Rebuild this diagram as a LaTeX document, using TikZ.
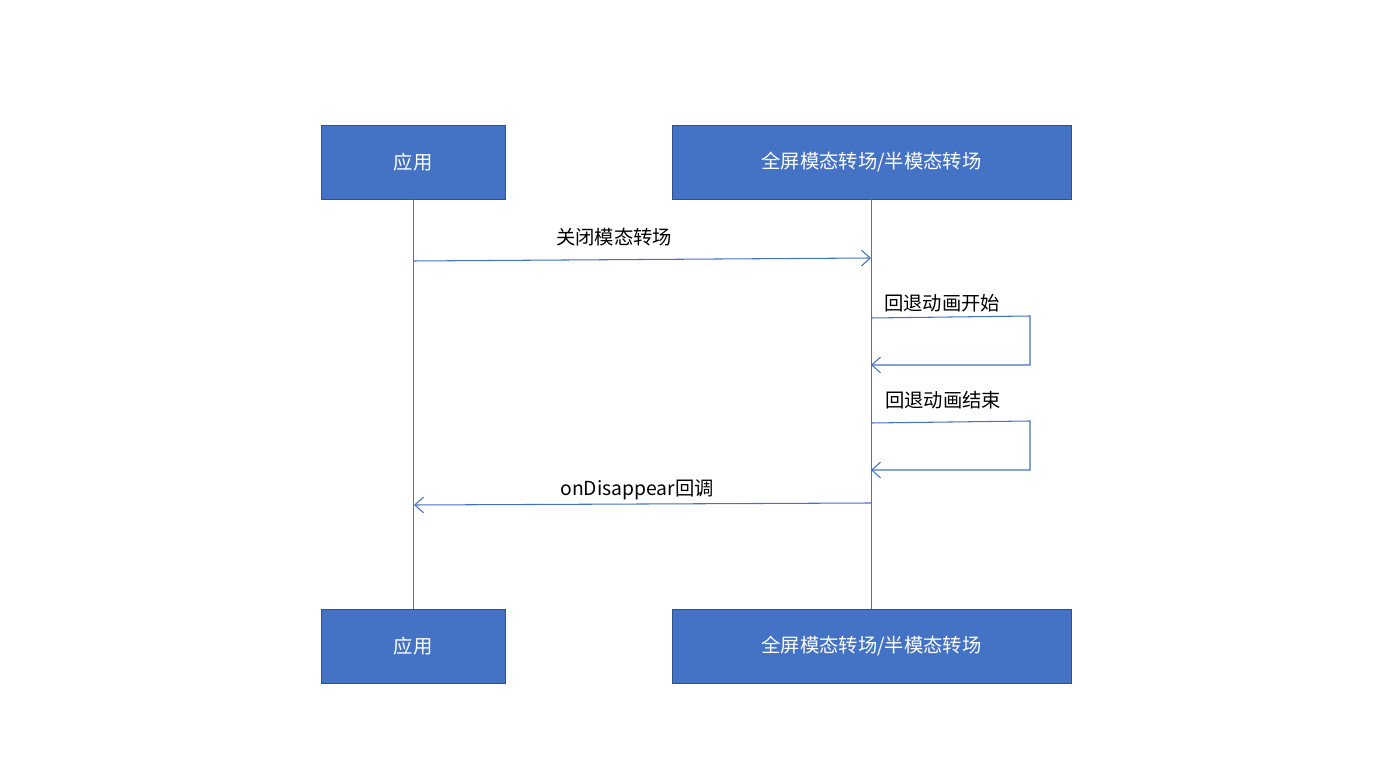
\documentclass[tikz,border=0pt]{standalone}
\usepackage{fontspec}
\setmainfont{Noto Sans CJK SC}
\usetikzlibrary{positioning, arrows.meta}
\definecolor{BoxColor}{RGB}{68,114,196}
\definecolor{BoxBorder}{RGB}{47,82,143}
\definecolor{LifeColor}{RGB}{110,110,110}
\tikzstyle{actor} = [rectangle, draw=BoxBorder, fill=BoxColor, text=white, minimum height=1.48cm, font=\fontsize{11}{13}\selectfont]
\tikzstyle{msg} = [BoxColor, semithick, -{Straight Barb[length=5pt,width=9pt]}]
\tikzstyle{lifeline} = [LifeColor, thin]
\tikzstyle{label} = [font=\fontsize{11}{13}\selectfont, inner sep=0pt]

\begin{document}
\begin{tikzpicture}[x=0.02cm, y=-0.02cm]
                \useasboundingbox (0,0) rectangle (1390,780);

                % Actors
                \node[actor, minimum width=3.68cm] (appTop) at (413,162) {应用};
                \node[actor, minimum width=7.98cm] (modalTop) at (871.5,162) {全屏模态转场/半模态转场};
                \node[actor, minimum width=3.68cm] (appBot) at (413,646) {应用};
                \node[actor, minimum width=7.98cm] (modalBot) at (871.5,646) {全屏模态转场/半模态转场};

                % Lifelines
                \draw[lifeline] (appTop) -- (appBot);
                \draw[lifeline] (modalTop.south -| 871,0) -- (modalBot.north -| 871,0);

                % Close request
                \coordinate (c1) at (413,261);
                \coordinate (c2) at (871,258);
                \draw[msg] (c1) -- (c2);
                \node[label] (closeLbl) at (614,237) {关闭模态转场};

                % Back animation start
                \coordinate (s1) at (871,318);
                \coordinate (s2) at (1030,316);
                \coordinate (s3) at (871,365);
                \draw[msg] (s1) -- (s2) -- (s2 |- s3) -- (s3);
                \node[label] (startLbl) at (942,303) {回退动画开始};

                % Back animation end
                \coordinate (e1) at (871,423);
                \coordinate (e2) at (1030,421);
                \coordinate (e3) at (871,470);
                \draw[msg] (e1) -- (e2) -- (e2 |- e3) -- (e3);
                \node[label] (endLbl) at (943,400) {回退动画结束};

                % Callback
                \coordinate (r1) at (871,503);
                \coordinate (r2) at (414,505);
                \draw[msg] (r1) -- (r2);
                \node[label] (cbLbl) at (637,490) {onDisappear回调};
            \end{tikzpicture}
\end{document}
